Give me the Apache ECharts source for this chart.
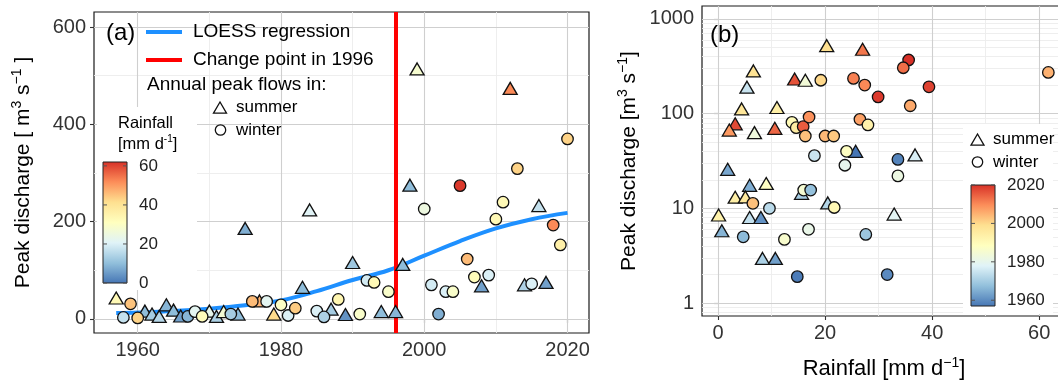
<!DOCTYPE html>
<html><head><meta charset="utf-8">
<script src="https://cdn.jsdelivr.net/npm/echarts@6/dist/echarts.min.js"></script>
<style>html,body{margin:0;padding:0;background:#fff}#c{width:1058px;height:381px}</style>
</head><body><div id="c"></div>
<script>
// ---------------- Panel (a): year vs peak discharge, coloured by rainfall ----------------
const aSummerYear = [1957,1961,1962,1963,1964,1965,1966,1970,1971,1972,1974,1975,1977,1979,1983,1984,1987,1989,1990,1994,1996,1997,1998,1999,2008,2012,2014,2016,2017];
const aSummerQ    = [43,16,10,5,29,18,6,16,5,15,10,186,37,10,65,224,20,9,116,15,15,112,275,514,68,474,70,233,75];
const aSummerRain = [33,10,13,15,9,10,6,23,14,27,10,8,47,42,10,21,13,4,12,10,9,10,10,28,6,52,14,17,6];

const aWinterYear = [1958,1959,1960,1967,1968,1969,1973,1976,1978,1980,1981,1982,1985,1986,1988,1991,1992,1993,1995,2000,2001,2002,2003,2004,2005,2006,2007,2009,2010,2011,2013,2015,2018,2019,2020];
const aWinterQ    = [3,31,2,5,15,5,10,36,36,29,7,22,16,4,40,10,79,75,56,226,70,10,56,56,274,123,86,90,205,240,309,72,193,152,370];
const aWinterRain = [17,45,43,9,22,32,13,46,22,30,20,44,20,14,34,29,19,33,29,25,19,8,20,29,61,46,32,20,33,33,43,20,52,36,43];

// LOESS regression curve
const loessYear = [1957,1960,1965,1970,1975,1980,1985,1990,1995,2000,2005,2010,2015,2020];
const loessQ    = [12,13,16,21,28,38,57,80,100,130,160,186,205,218];
const changePointYear = 1996;

// ---------------- Panel (b): rainfall vs peak discharge (log), coloured by year ----------------
const bSummerRain = [20.3,27.0,6.6,5.4,14.3,16.3,4.4,11.0,3.2,2.1,6.8,10.6,25.7,1.8,36.8,5.9,9.0,3.2,5.1,0.1,5.9,8.0,0.7,8.3,10.7,15.6,20.5,32.9];
const bSummerQ    = [521,478,282,190,232,225,112,116,78,67,63,70,40,25.8,36.6,17.5,18.3,13.1,13.2,8.5,8.0,8.0,5.8,2.96,2.96,14.4,11.4,8.7];
const bSummerYear = [1999,2012,1998,1975,2016,1984,1997,1994,2017,2008,1983,2014,1957,1964,1977,1965,1988,1994,1996,1993,1974,1961,1966,1971,1963,1970,1972,1979];

const bWinterRain = [19.2,25.3,27.4,29.9,13.8,14.6,15.9,17.0,16.3,20.0,21.6,26.5,28.0,18.0,24.0,23.7,35.6,34.6,39.4,35.9,61.7,33.6,33.6,6.5,9.6,4.7,12.4,16.9,14.8,16.0,17.3,21.7,27.6,31.6];
const bWinterQ    = [225,235,200,150,81,71,73,92,58,58,58,87,76,36,40,28.5,368,305,192,121,272,32.8,22,11.3,10,5.0,4.7,6.0,1.9,15.6,15.6,10.2,5.3,2.0];
const bWinterYear = [2000,2011,2010,2019,1990,1995,2015,2009,2003,2004,2002,2007,1993,1975,1988,1980,2020,2013,2018,2006,2005,1959,1982,2003,1973,1967,1986,1981,1958,1985,1968,1991,1969,1960];

// axis ticks / grid lines
const aXMajor = [1960,1980,2000,2020], aXMinor = [1970,1990,2010];
const aYMajor = [0,200,400,600],      aYMinor = [100,300,500];
const bXMajor = [0,20,40,60],         bXMinor = [10,30,50];
const bYMajor = [1,10,100,1000];
const bYMinor = [0.8,0.9,2,3,4,5,6,7,8,9,20,30,40,50,60,70,80,90,200,300,400,500,600,700,800,900];
const rainTicks = [0,20,40,60];
const yearTicks = [1960,1980,2000,2020];
const rainRange = [0,62];
const yearRange = [1957,2020];

const palette = ['#4575B4','#91BFDB','#E0F3F8','#FFFFBF','#FEE090','#FC8D59','#D73027'];
const FONT = '"Liberation Sans", Arial, Helvetica, sans-serif';
const zip = (a,b,c) => a.map((v,i) => c ? [v,b[i],c[i]] : [v,b[i]]);

const MAJ = {color:'#cfcfcf', width:1.1, type:'solid'};
const MIN = {color:'#ececec', width:0.9, type:'solid'};
function gridLines(xMaj, xMin, yMaj, yMin){
  const d = [];
  xMin.forEach(v => d.push({xAxis:v, lineStyle:MIN}));
  yMin.forEach(v => d.push({yAxis:v, lineStyle:MIN}));
  xMaj.forEach(v => d.push({xAxis:v, lineStyle:MAJ}));
  yMaj.forEach(v => d.push({yAxis:v, lineStyle:MAJ}));
  return d;
}
const ML = {silent:true, z:1, symbol:['none','none'], label:{show:false}, emphasis:{disabled:true}, animation:false};

const supRich = (fs, lh) => ({sup:{fontSize:fs, lineHeight:lh, verticalAlign:'top', fontFamily:FONT, color:'#000'}});

const axisLbl = {fontSize:20, color:'#333', fontFamily:FONT, showMinLabel:false, showMaxLabel:false};
const tick = {show:true, length:4, inside:false, lineStyle:{color:'#333', width:1.1}};

const ptStyle = {borderColor:'#111', borderWidth:1.3, opacity:1};

// colour bar builder
function colorBar(x, y, w, h, range, ticks, fmt){
  const els = [];
  const stops = palette.map((c,i) => ({offset:i/(palette.length-1), color:c}));
  els.push({type:'rect', z:20, shape:{x, y, width:w, height:h},
    style:{fill:new echarts.graphic.LinearGradient(0,1,0,0,stops), stroke:'#222', lineWidth:1}});
  ticks.forEach(t => {
    const ty = y + h - (t - range[0])/(range[1]-range[0])*h;
    els.push({type:'line', z:21, shape:{x1:x, y1:ty, x2:x+4, y2:ty}, style:{stroke:'#555', lineWidth:1}});
    els.push({type:'line', z:21, shape:{x1:x+w-4, y1:ty, x2:x+w, y2:ty}, style:{stroke:'#555', lineWidth:1}});
    els.push({type:'text', z:21, x:x+w+12, y:ty, style:{text:fmt(t), font:'17px '+FONT, fill:'#222', textVerticalAlign:'middle'}});
  });
  return els;
}
function txt(x, y, s, size, extra){
  return Object.assign({type:'text', z:21, x, y, style:Object.assign({text:s, font:size+'px '+FONT, fill:'#000', textVerticalAlign:'middle'}, extra||{})});
}
function tri(cx, cy){ return {type:'polygon', z:21, shape:{points:[[cx,cy-6],[cx-6.5,cy+5.2],[cx+6.5,cy+5.2]]}, style:{fill:'#fff', stroke:'#111', lineWidth:1.3}}; }
function circ(cx, cy){ return {type:'circle', z:21, shape:{cx, cy, r:5.2}, style:{fill:'#fff', stroke:'#111', lineWidth:1.3}}; }

const graphics = [
  // panel (a) legend
  {type:'rect', z:19, shape:{x:97, y:107, width:100, height:183}, style:{fill:'#fff'}},
  txt(106, 33, '(a)', 24),
  {type:'line', z:21, shape:{x1:146, y1:32, x2:182, y2:32}, style:{stroke:'#1E90FF', lineWidth:4}},
  txt(193, 32, 'LOESS regression', 19),
  {type:'line', z:21, shape:{x1:146, y1:60, x2:182, y2:60}, style:{stroke:'#FF0000', lineWidth:4}},
  txt(193, 60, 'Change point in ' + changePointYear, 19),
  txt(147, 85, 'Annual peak flows in:', 19),
  tri(220, 108), txt(236, 107, 'summer', 17),
  circ(220.5, 130), txt(236, 130, 'winter', 17),
  txt(118, 123, 'Rainfall', 16.5),
  {type:'text', z:21, x:118, y:144, style:{text:'[mm d{sup|-1}]', font:'16.5px '+FONT, fill:'#000', textVerticalAlign:'middle', lineHeight:20,
     rich:{sup:{fontSize:10, lineHeight:11, verticalAlign:'top', fontFamily:FONT, fill:'#000'}}}},
  ...colorBar(103, 162, 24, 121, rainRange, rainTicks, String),
  // panel (b) legend
  {type:'rect', z:19, shape:{x:963, y:124, width:90, height:190}, style:{fill:'#fff'}},
  txt(710, 35, '(b)', 24),
  tri(977.5, 140), txt(993, 139, 'summer', 17),
  circ(977.5, 162), txt(993, 162, 'winter', 17),
  ...colorBar(971, 185, 24, 121, yearRange, yearTicks, String)
];

const option = {
  animation:false,
  backgroundColor:'#fff',
  textStyle:{fontFamily:FONT},
  grid:[
    {left:94, top:12, width:495, height:321, show:true, borderColor:'#1a1a1a', borderWidth:1.2, backgroundColor:'#fff', containLabel:false, outerBoundsMode:'none'},
    {left:702, top:6, width:364, height:310, show:true, borderColor:'#1a1a1a', borderWidth:1.2, backgroundColor:'#fff', containLabel:false, outerBoundsMode:'none'}
  ],
  xAxis:[
    {gridIndex:0, type:'value', min:1953.9, max:2023.0, splitNumber:3, axisLine:{show:false}, axisTick:tick, splitLine:{show:false},
     axisLabel:Object.assign({margin:7, formatter:v=>String(v)}, axisLbl)},
    {gridIndex:1, type:'value', min:-3, max:65, splitNumber:3, axisLine:{show:false}, axisTick:tick, splitLine:{show:false},
     axisLabel:Object.assign({margin:7, formatter:v=>String(v)}, axisLbl),
     name:'Rainfall [mm d{sup|−1}]', nameLocation:'middle', nameGap:40,
     nameTextStyle:{fontSize:22, lineHeight:26, color:'#000', fontFamily:FONT, rich:supRich(14,13)}}
  ],
  yAxis:[
    {gridIndex:0, type:'value', min:-29, max:631, splitNumber:3, axisLine:{show:false}, axisTick:tick, splitLine:{show:false},
     axisLabel:Object.assign({margin:8, formatter:v=>String(v)}, axisLbl),
     name:'Peak discharge [ m{sup|3} s{sup|−1} ]', nameLocation:'middle', nameRotate:90, nameGap:58,
     nameTextStyle:{fontSize:21, lineHeight:26, color:'#000', fontFamily:FONT, rich:supRich(14,13)}},
    {gridIndex:1, type:'log', logBase:10, min:0.73, max:1368, axisLine:{show:false}, axisTick:tick, splitLine:{show:false}, minorTick:{show:false},
     axisLabel:Object.assign({margin:8, formatter:v=>String(Math.round(v))}, axisLbl),
     name:'Peak discharge [m{sup|3} s{sup|−1}]', nameLocation:'middle', nameRotate:90, nameGap:60,
     nameTextStyle:{fontSize:21, lineHeight:26, color:'#000', fontFamily:FONT, rich:supRich(14,13)}}
  ],
  visualMap:[
    {type:'continuous', show:false, seriesIndex:[2,3], dimension:2, min:rainRange[0], max:rainRange[1], inRange:{color:palette}},
    {type:'continuous', show:false, seriesIndex:[6,7], dimension:2, min:yearRange[0], max:yearRange[1], inRange:{color:palette}}
  ],
  series:[
    {type:'line', xAxisIndex:0, yAxisIndex:0, data:[], z:1, markLine:Object.assign({data:gridLines(aXMajor,aXMinor,aYMajor,aYMinor)}, ML)},
    {type:'line', xAxisIndex:1, yAxisIndex:1, data:[], z:1, markLine:Object.assign({data:gridLines(bXMajor,bXMinor,bYMajor,bYMinor)}, ML)},
    {name:'summer', type:'scatter', xAxisIndex:0, yAxisIndex:0, z:4, symbol:'triangle', symbolSize:[14,12],
     data:zip(aSummerYear,aSummerQ,aSummerRain), itemStyle:ptStyle},
    {name:'winter', type:'scatter', xAxisIndex:0, yAxisIndex:0, z:4, symbol:'circle', symbolSize:11.5,
     data:zip(aWinterYear,aWinterQ,aWinterRain), itemStyle:ptStyle},
    {name:'LOESS regression', type:'line', xAxisIndex:0, yAxisIndex:0, z:2, smooth:0.4, showSymbol:false, symbol:'none',
     data:zip(loessYear,loessQ), lineStyle:{color:'#1E90FF', width:4}},
    {name:'Change point', type:'line', xAxisIndex:0, yAxisIndex:0, z:3, data:[],
     markLine:Object.assign({}, ML, {z:3, data:[{xAxis:changePointYear, lineStyle:{color:'#FF0000', width:4, type:'solid'}}]})},
    {name:'summer b', type:'scatter', xAxisIndex:1, yAxisIndex:1, z:4, symbol:'triangle', symbolSize:[14,12],
     data:zip(bSummerRain,bSummerQ,bSummerYear), itemStyle:ptStyle},
    {name:'winter b', type:'scatter', xAxisIndex:1, yAxisIndex:1, z:4, symbol:'circle', symbolSize:11.5,
     data:zip(bWinterRain,bWinterQ,bWinterYear), itemStyle:ptStyle}
  ],
  graphic:{elements:graphics}
};

const chart = echarts.init(document.getElementById('c'), null, {renderer:'canvas'});
chart.setOption(option);
</script>
</body></html>
